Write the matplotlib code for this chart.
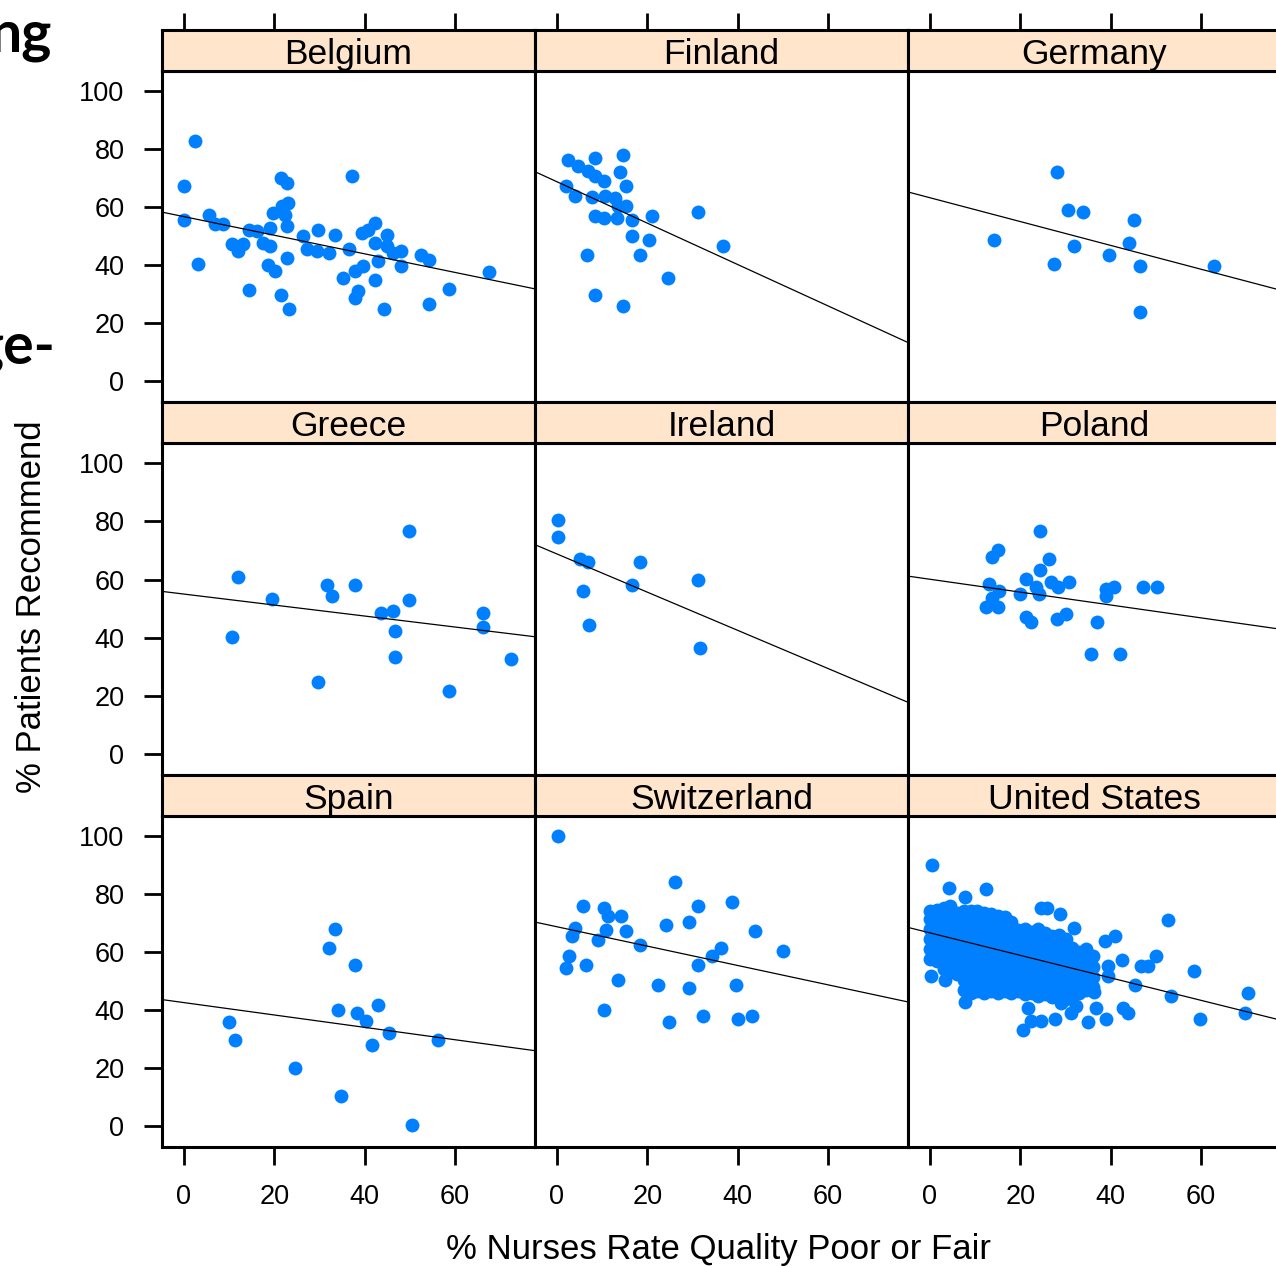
import matplotlib
matplotlib.use('Agg')
import matplotlib.pyplot as plt
import numpy as np

plt.rcParams['font.family'] = ['Liberation Sans', 'DejaVu Sans']

# ---------------- data ----------------
countries = ['Belgium', 'Finland', 'Germany', 'Greece', 'Ireland', 'Poland',
             'Spain', 'Switzerland', 'United States']

bel_x = [2.4, 0, 0, 3.0, 5.6, 6.9, 8.7, 10.6, 12.0, 13.1, 14.5, 14.5, 16.1, 17.6, 19.0,
         18.7, 20.1, 19.0, 19.8, 21.6, 23.1, 22.4, 21.4, 22.7, 22.7, 22.7, 21.4, 23.3, 26.4, 27.2,
         29.4, 29.7, 32.0, 33.4, 35.3, 37.1, 36.6, 37.9, 37.9, 38.6, 39.7, 39.3, 40.8, 42.3, 42.3,
         42.3, 43.0, 44.9, 44.9, 44.3, 46.3, 48.0, 48.0, 52.4, 54.3, 58.7, 54.3, 67.5]
bel_y = [82.6, 67.1, 55.4, 40.5, 57.4, 54.3, 54.3, 47.4, 44.8, 47.4, 31.6, 52.2, 51.6, 47.6, 46.5,
         40.2, 37.9, 52.8, 57.9, 60.2, 61.4, 57.4, 70.0, 68.3, 53.5, 42.5, 29.9, 25.0, 49.9, 45.6,
         44.8, 52.2, 44.2, 50.5, 35.6, 70.8, 45.6, 37.9, 28.7, 31.0, 39.6, 51.1, 52.2, 54.5, 47.6,
         34.8, 41.3, 50.5, 46.5, 25.0, 44.2, 44.8, 39.6, 43.6, 41.9, 31.8, 26.8, 37.6]

fin_x = [2.5, 4.6, 8.4, 14.7, 6.8, 8.4, 10.3, 13.9, 15.2, 1.9, 4.0, 7.7, 10.6, 12.8, 15.2,
         13.6, 8.4, 10.3, 13.2, 16.5, 21.0, 16.5, 20.4, 31.2, 36.8, 6.6, 18.4, 24.6, 8.4, 14.7]
fin_y = [76.3, 74.0, 76.9, 78.0, 72.3, 70.8, 68.8, 71.9, 67.1, 67.4, 63.9, 63.3, 63.7, 63.1, 60.2,
         60.2, 57.0, 56.2, 56.2, 55.7, 57.0, 50.2, 48.6, 58.2, 46.5, 43.6, 43.6, 35.6, 29.9, 25.9]

ger_x = [28.1, 30.6, 33.8, 45.2, 14.2, 31.9, 44.0, 39.6, 27.5, 46.5, 62.8, 46.5]
ger_y = [71.9, 59.1, 58.2, 55.4, 48.6, 46.5, 47.6, 43.6, 40.5, 39.6, 39.6, 23.9]

gre_x = [49.9, 11.9, 31.6, 37.9, 32.7, 19.5, 49.9, 43.7, 46.2, 66.2, 66.2, 46.7, 10.7, 46.7,
         72.5, 29.6, 58.7]
gre_y = [76.7, 60.9, 58.1, 58.1, 54.2, 53.3, 53.0, 48.5, 49.2, 48.5, 43.5, 42.4, 40.3, 33.4,
         32.6, 24.6, 21.8]

ire_x = [0.2, 0.2, 5.1, 6.8, 18.4, 31.2, 16.5, 5.8, 7.1, 31.7]
ire_y = [80.5, 74.7, 67.0, 65.9, 65.9, 59.9, 58.1, 56.1, 44.3, 36.4]

pol_x = [24.4, 15.0, 13.7, 26.3, 24.4, 21.3, 13.0, 15.3, 13.7, 12.4, 15.0, 19.9, 23.5, 24.2, 26.8,
         28.3, 30.7, 21.3, 22.4, 28.1, 30.1, 39.0, 40.8, 39.0, 47.1, 50.2, 37.0, 35.7, 42.1]
pol_y = [76.7, 70.1, 67.9, 67.0, 63.3, 60.1, 58.4, 56.1, 53.8, 50.4, 50.4, 55.0, 57.3, 55.0, 59.2,
         57.3, 59.0, 47.0, 45.3, 46.4, 48.1, 56.7, 57.3, 54.4, 57.3, 57.3, 45.3, 34.4, 34.4]

spa_x = [33.4, 32.2, 37.9, 43.0, 34.1, 38.4, 40.4, 10.0, 45.4, 56.2, 11.3, 41.6, 24.6, 34.8, 50.5]
spa_y = [68.1, 61.4, 55.4, 41.7, 40.0, 39.1, 36.2, 35.8, 32.2, 29.9, 29.9, 27.9, 20.2, 10.4, 0.6]

swi_x = [0.2, 26.1, 5.8, 10.3, 31.2, 38.7, 11.4, 14.2, 24.2, 29.3, 4.0, 3.3, 10.8, 15.3, 9.0,
         43.8, 18.4, 36.2, 34.4, 50.0, 2.7, 2.1, 6.4, 31.2, 13.4, 22.3, 29.3, 39.7, 10.3, 32.4,
         24.8, 40.0, 43.1]
swi_y = [100.0, 84.0, 76.0, 75.1, 76.0, 77.1, 72.3, 72.3, 69.2, 70.2, 68.3, 65.4, 67.7, 67.4, 64.3,
         67.4, 62.3, 61.4, 58.5, 60.5, 58.5, 54.5, 55.4, 55.4, 50.5, 48.6, 47.7, 48.6, 39.9, 37.9,
         35.8, 36.8, 37.9]

us_points = [
    # outlying hospitals
    (0.4, 89.8), (4.1, 82.2), (12.3, 81.8), (7.8, 79.1), (24.6, 75.1), (26.0, 75.1), (28.7, 73.2),
    (52.7, 71.1), (31.9, 68.3), (40.9, 65.4), (38.7, 63.7), (50.1, 58.5), (42.4, 57.4), (46.8, 55.3),
    (48.3, 55.3), (58.4, 53.6), (70.4, 45.9), (69.8, 39.1), (59.7, 37.0), (53.4, 44.8), (45.3, 48.6),
    (42.7, 40.8), (43.9, 39.1), (38.9, 36.8), (36.8, 40.8), (35.0, 35.8), (32.4, 41.3), (31.3, 38.9),
    (27.6, 36.8), (24.6, 36.2), (22.4, 36.2), (20.6, 33.1), (21.8, 40.8), (7.8, 42.7), (0.3, 51.9),
    (3.3, 50.5), (29.1, 42.4), (36.4, 46.2), (39.4, 55.1), (39.4, 51.6),
    # dense core
    (0.0, 57.5), (0.0, 61.0), (0.0, 64.5), (0.0, 68.0), (0.0, 71.5), (0.0, 74.0),
    (1.5, 57.0), (1.5, 60.5), (1.5, 64.0), (1.5, 67.5), (1.5, 71.0), (1.5, 74.5),
    (3.0, 54.0), (3.0, 57.5), (3.0, 61.0), (3.0, 64.5), (3.0, 68.0), (3.0, 71.5), (3.0, 75.0),
    (4.5, 53.0), (4.5, 56.5), (4.5, 60.0), (4.5, 63.5), (4.5, 67.0), (4.5, 70.5), (4.5, 74.0), (4.5, 76.0),
    (6.0, 52.5), (6.0, 56.0), (6.0, 59.5), (6.0, 63.0), (6.0, 66.5), (6.0, 70.0), (6.0, 73.5),
    (7.5, 47.0), (7.5, 50.5), (7.5, 54.0), (7.5, 57.5), (7.5, 61.0), (7.5, 64.5), (7.5, 68.0), (7.5, 71.5), (7.5, 74.0),
    (9.0, 46.0), (9.0, 49.5), (9.0, 53.0), (9.0, 56.5), (9.0, 60.0), (9.0, 63.5), (9.0, 67.0), (9.0, 70.5), (9.0, 74.0),
    (10.5, 46.5), (10.5, 50.0), (10.5, 53.5), (10.5, 57.0), (10.5, 60.5), (10.5, 64.0), (10.5, 67.5), (10.5, 71.0), (10.5, 74.0),
    (12.0, 46.0), (12.0, 49.5), (12.0, 53.0), (12.0, 56.5), (12.0, 60.0), (12.0, 63.5), (12.0, 67.0), (12.0, 70.5), (12.0, 73.5),
    (13.5, 46.5), (13.5, 50.0), (13.5, 53.5), (13.5, 57.0), (13.5, 60.5), (13.5, 64.0), (13.5, 67.5), (13.5, 71.0), (13.5, 73.0),
    (15.0, 46.0), (15.0, 49.5), (15.0, 53.0), (15.0, 56.5), (15.0, 60.0), (15.0, 63.5), (15.0, 67.0), (15.0, 70.5), (15.0, 72.5),
    (16.5, 46.5), (16.5, 50.0), (16.5, 53.5), (16.5, 57.0), (16.5, 60.5), (16.5, 64.0), (16.5, 67.5), (16.5, 71.0), (16.5, 72.0),
    (18.0, 46.0), (18.0, 49.5), (18.0, 53.0), (18.0, 56.5), (18.0, 60.0), (18.0, 63.5), (18.0, 67.0), (18.0, 70.5),
    (19.5, 46.5), (19.5, 50.0), (19.5, 53.5), (19.5, 57.0), (19.5, 60.5), (19.5, 64.0), (19.5, 67.5),
    (21.0, 45.5), (21.0, 49.0), (21.0, 52.5), (21.0, 56.0), (21.0, 59.5), (21.0, 63.0), (21.0, 66.5), (21.0, 68.0),
    (22.5, 46.0), (22.5, 49.5), (22.5, 53.0), (22.5, 56.5), (22.5, 60.0), (22.5, 63.5), (22.5, 67.0),
    (24.0, 45.0), (24.0, 48.5), (24.0, 52.0), (24.0, 55.5), (24.0, 59.0), (24.0, 62.5), (24.0, 66.0), (24.0, 68.0),
    (25.5, 45.5), (25.5, 49.0), (25.5, 52.5), (25.5, 56.0), (25.5, 59.5), (25.5, 63.0), (25.5, 66.5),
    (27.0, 44.5), (27.0, 48.0), (27.0, 51.5), (27.0, 55.0), (27.0, 58.5), (27.0, 62.0), (27.0, 65.5),
    (28.5, 45.0), (28.5, 48.5), (28.5, 52.0), (28.5, 55.5), (28.5, 59.0), (28.5, 62.5), (28.5, 66.0),
    (30.0, 44.0), (30.0, 47.5), (30.0, 51.0), (30.0, 54.5), (30.0, 58.0), (30.0, 61.5), (30.0, 64.5),
    (31.5, 45.0), (31.5, 48.5), (31.5, 52.0), (31.5, 55.5), (31.5, 59.0), (31.5, 61.5),
    (33.0, 46.0), (33.0, 49.5), (33.0, 53.0), (33.0, 56.5), (33.0, 60.0),
    (34.5, 47.0), (34.5, 50.5), (34.5, 54.0), (34.5, 57.5), (34.5, 61.0),
    (36.0, 48.0), (36.0, 51.5), (36.0, 55.0), (36.0, 58.5),
]
us_x = [p[0] for p in us_points]
us_y = [p[1] for p in us_points]

# fitted lines: intercept at x=0 and slope
line_intercept = [56.7, 68.7, 63.2, 55.0, 68.8, 60.1, 42.6, 68.7, 66.6]
line_slope = [-0.320, -0.712, -0.410, -0.189, -0.657, -0.2215, -0.213, -0.333, -0.387]

x_ticks = [0, 20, 40, 60]
y_ticks = [0, 20, 40, 60, 80, 100]

xs = [bel_x, fin_x, ger_x, gre_x, ire_x, pol_x, spa_x, swi_x, us_x]
ys = [bel_y, fin_y, ger_y, gre_y, ire_y, pol_y, spa_y, swi_y, us_y]

# ---------------- layout ----------------
W, H = 1276, 1267
fig = plt.figure(figsize=(W / 100, H / 100), dpi=100)

XLIM = (-4.87, 77.71)
YLIM = (-7.1, 107.0)
col_left = [162, 535, 908]
panel_w = 373
panel_top = [70.5, 443.0, 815.5]
panel_h = 331.5
strip_h = 41

POINT_COL = '#0080ff'
STRIP_COL = '#ffe5cc'
SPINE_W = 2.2


def frac(left, top, w, h):
    return [left / W, 1 - (top + h) / H, w / W, h / H]


for i, name in enumerate(countries):
    r, c = divmod(i, 3)
    ax = fig.add_axes(frac(col_left[c], panel_top[r], panel_w, panel_h))
    ax.set_xlim(XLIM)
    ax.set_ylim(YLIM)
    ax.plot(xs[i], ys[i], 'o', color=POINT_COL, ms=10, mec='none', zorder=2)
    xx = np.array(XLIM)
    ax.plot(xx, line_intercept[i] + line_slope[i] * xx, color='black', lw=0.9, zorder=3)
    ax.set_xticks(x_ticks)
    ax.set_yticks(y_ticks)
    ax.tick_params(direction='out', length=13, width=2, labelsize=19.5, pad=14,
                   left=(c == 0), labelleft=(c == 0),
                   bottom=(r == 2), labelbottom=(r == 2),
                   top=False, right=False, labeltop=False, labelright=False)
    for s in ax.spines.values():
        s.set_linewidth(SPINE_W)

    sx = fig.add_axes(frac(col_left[c], panel_top[r] - strip_h, panel_w, strip_h))
    sx.set_facecolor(STRIP_COL)
    sx.set_xlim(XLIM)
    sx.set_ylim(0, 1)
    sx.set_xticks(x_ticks)
    sx.set_yticks([])
    sx.tick_params(direction='out', length=12, width=2,
                   top=(r == 0), bottom=False, labeltop=False, labelbottom=False,
                   left=False, right=False)
    for s in sx.spines.values():
        s.set_linewidth(SPINE_W)
    sx.text(0.5, 0.40, name, transform=sx.transAxes, ha='center', va='center',
            fontsize=25.5)

fig.text(718 / W, 1 - 1250 / H, '% Nurses Rate Quality Poor or Fair',
         ha='center', va='center', fontsize=25)
fig.text(32 / W, 1 - 607 / H, '% Patients Recommend', rotation=90,
         ha='center', va='center', fontsize=25)

# fragments of slide title cropped at the left edge (cut off in the original too)
fig.text(52 / W, 1 - 52 / H, 'ng', ha='right', va='baseline', fontsize=41,
         fontweight='bold', family=['Lato', 'DejaVu Sans'])
fig.text(55 / W, 1 - 363 / H, 'ge-', ha='right', va='baseline', fontsize=41,
         fontweight='bold', family=['Lato', 'DejaVu Sans'])

fig.savefig('out.png', dpi=100)
